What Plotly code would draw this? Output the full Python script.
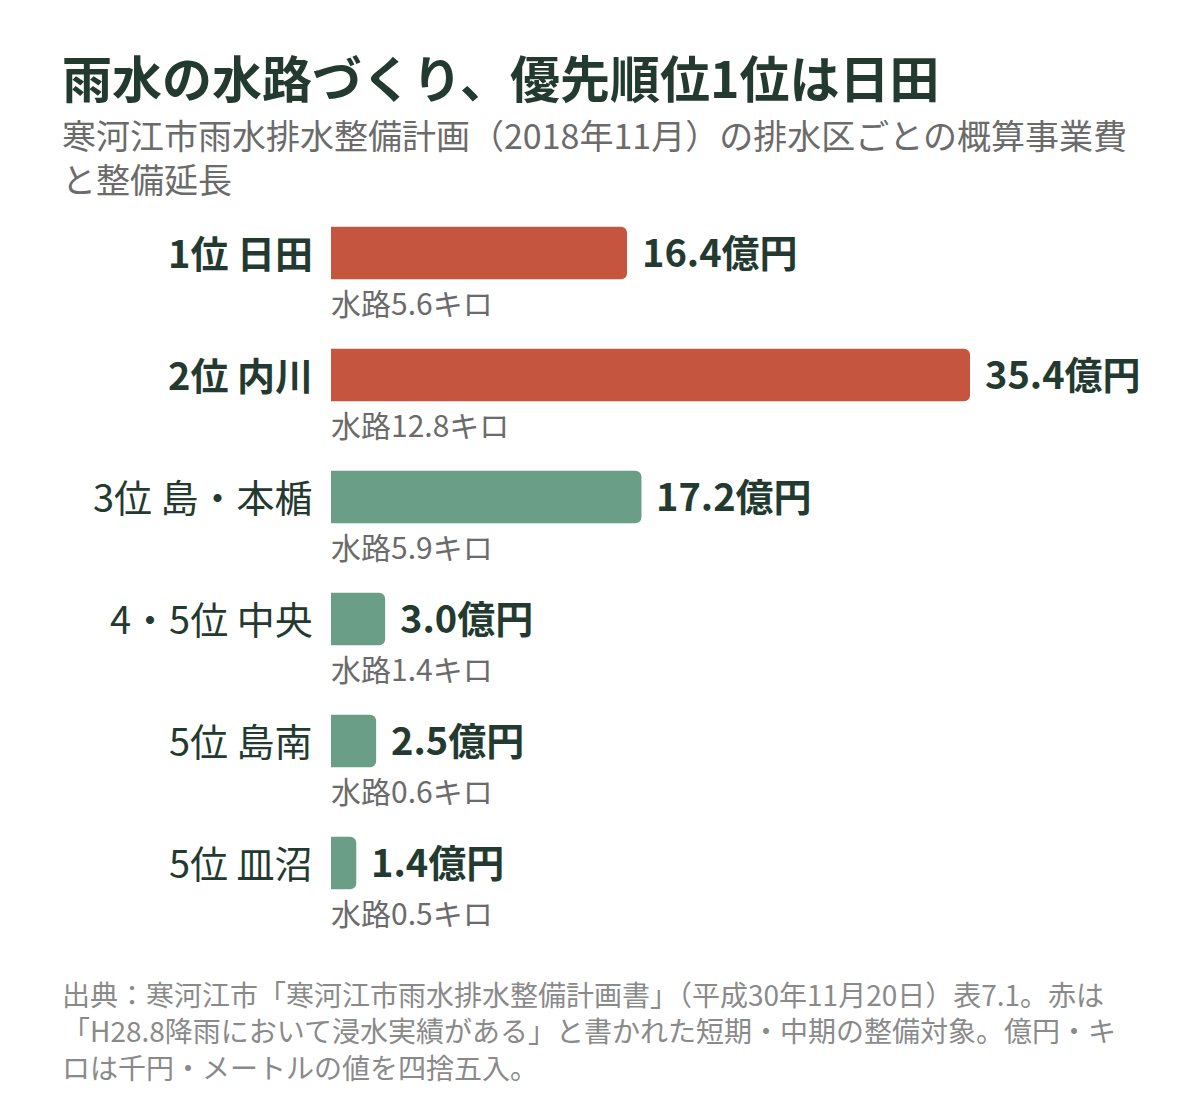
import plotly.graph_objects as go

# Data
districts = ["1位 日田", "2位 内川", "3位 島・本楯", "4・5位 中央", "5位 島南", "5位 皿沼"]
costs = [16.4, 35.4, 17.2, 3.0, 2.5, 1.4]          # 億円
lengths = [5.6, 12.8, 5.9, 1.4, 0.6, 0.5]          # キロ
flooded = [True, True, False, False, False, False]  # 赤 = 浸水実績あり

title = "雨水の水路づくり、優先順位1位は日田"
subtitle = "寒河江市雨水排水整備計画（2018年11月）の排水区ごとの概算事業費<br>と整備延長"
note = ("出典：寒河江市「寒河江市雨水排水整備計画書」（平成30年11月20日）表7.1。赤は<br>"
        "「H28.8降雨において浸水実績がある」と書かれた短期・中期の整備対象。億円・キ<br>"
        "ロは千円・メートルの値を四捨五入。")

FONT = "Noto Sans CJK JP"
DARK = "#233a30"
GRAY = "#6b6b6b"
RED = "#c6553f"
GREEN = "#6b9e86"

OFF = 8  # page body margin
W, H = 1200 - OFF, 1116 - OFF


def px(p):
    return (p - OFF) / W


def py(p):
    return 1 - (p - OFF) / H


ys = list(range(len(districts)))

fig = go.Figure()
fig.add_trace(go.Bar(
    x=costs, y=ys, orientation="h",
    marker=dict(color=[RED if f else GREEN for f in flooded], line=dict(width=0)),
    width=0.43, hoverinfo="skip",
))

ann = []
for i, (d, c, l, f) in enumerate(zip(districts, costs, lengths, flooded)):
    txt = f"<b>{d}</b>" if f else d
    ann.append(dict(x=px(315), xref="paper", y=i, yref="y", text=txt, showarrow=False,
                    xanchor="right", yanchor="middle", yshift=2,
                    font=dict(family=FONT, size=38, color=DARK)))
    ann.append(dict(x=c, xref="x", y=i, yref="y", text=f"<b>{c:.1f}億円</b>", showarrow=False,
                    xanchor="left", yanchor="middle", xshift=13, yshift=3,
                    font=dict(family=FONT, size=38, color=DARK)))
    ann.append(dict(x=0, xref="x", y=i, yref="y", text=f"水路{l:.1f}キロ", showarrow=False,
                    xanchor="left", yanchor="middle", yshift=-49, xshift=-2,
                    font=dict(family=FONT, size=30, color=GRAY)))

ann.append(dict(x=px(60), xref="paper", y=py(76), yref="paper", text=f"<b>{title}</b>",
                showarrow=False, xanchor="left", yanchor="middle",
                font=dict(family=FONT, size=50, color=DARK)))
ann.append(dict(x=px(60), xref="paper", y=py(108), yref="paper", text=subtitle,
                showarrow=False, xanchor="left", yanchor="top", align="left",
                font=dict(family=FONT, size=34, color=GRAY)))
ann.append(dict(x=px(60), xref="paper", y=py(972), yref="paper", text=note,
                showarrow=False, xanchor="left", yanchor="top", align="left",
                font=dict(family=FONT, size=28, color="#8a8a8a")))

fig.update_layout(
    width=W, height=H,
    margin=dict(l=0, r=0, t=0, b=0),
    paper_bgcolor="white", plot_bgcolor="white",
    showlegend=False,
    barcornerradius=6,
    annotations=ann,
    xaxis=dict(domain=[px(331), px(970)], range=[0, max(costs)], visible=False, fixedrange=True),
    yaxis=dict(domain=[py(924), py(192)], range=[len(districts) - 0.5, -0.5],
               visible=False, fixedrange=True),
)

fig.write_html("out.html", config={"displayModeBar": False})
